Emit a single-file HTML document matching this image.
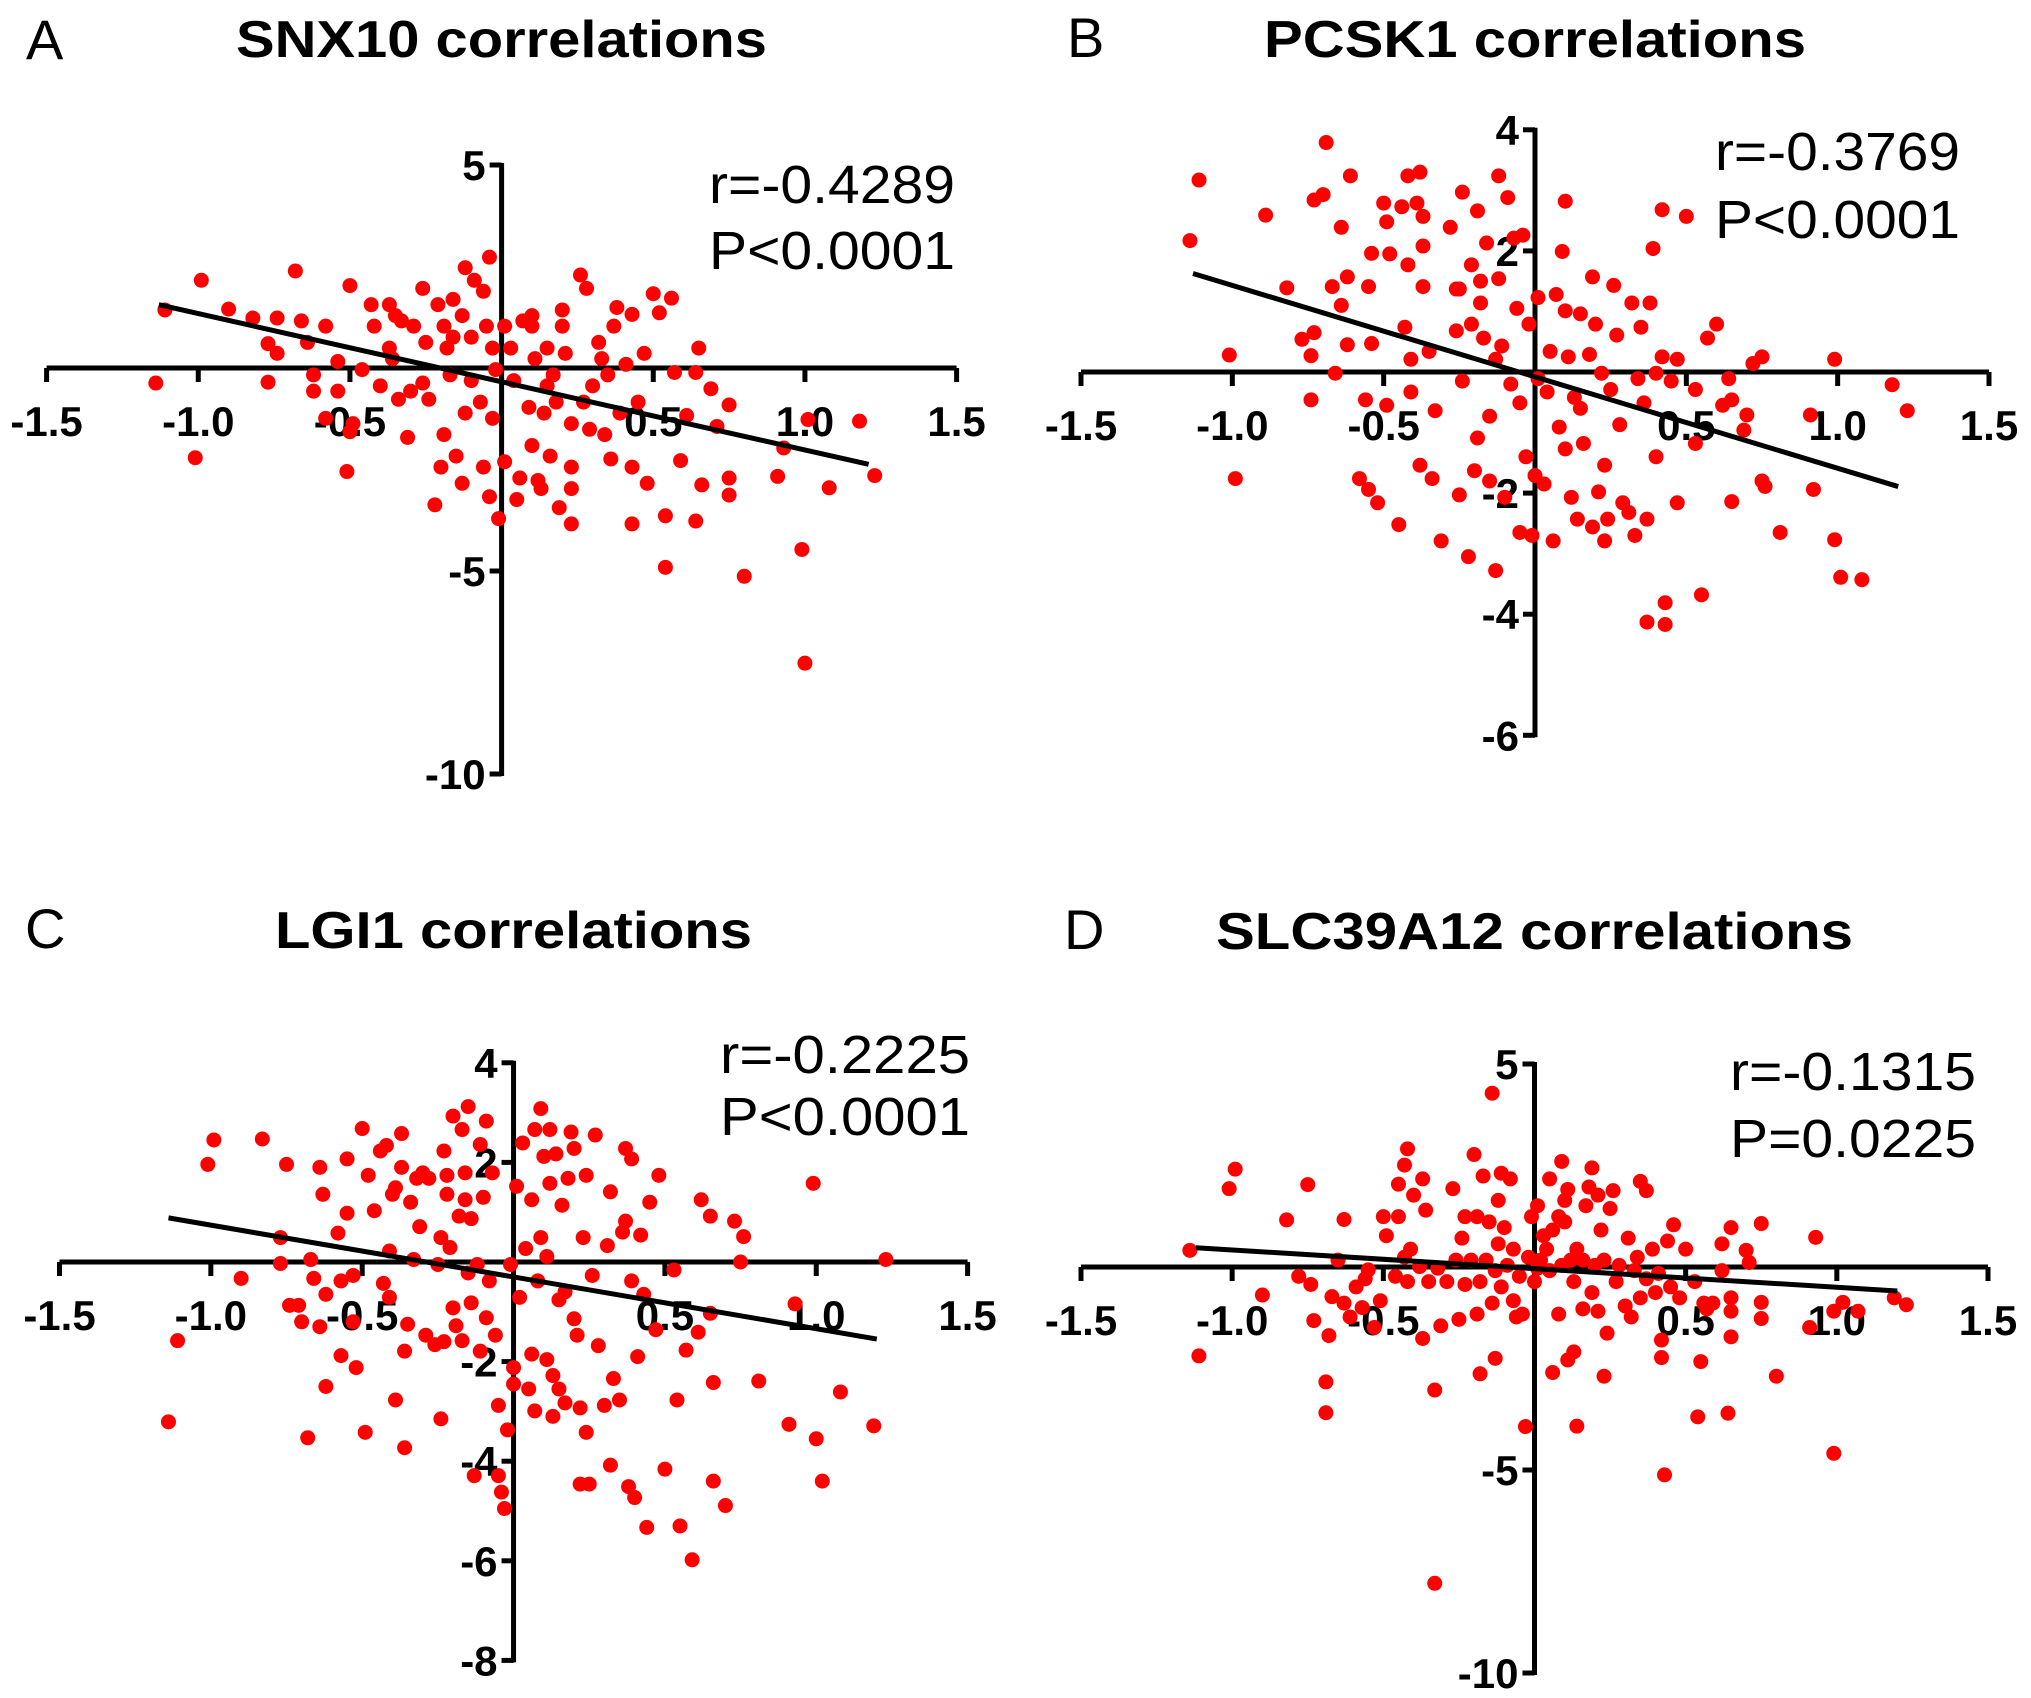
<!DOCTYPE html>
<html><head><meta charset="utf-8"><style>
html,body{margin:0;padding:0;background:#fff;}
svg{display:block;font-family:"Liberation Sans",Arial,sans-serif;}
</style></head><body>
<svg id="fig" width="2031" height="1698" viewBox="0 0 2031 1698" xmlns="http://www.w3.org/2000/svg"></svg>
<script>
// ---- Panel A data (SNX10) ----
const aX=[-1.14,-1.11,-0.99,-1.01,-0.90,-0.82,-0.77,-0.77,-0.74,-0.74,-0.68,-0.66,-0.64,-0.62,-0.62,-0.58,-0.58,-0.54,-0.54,-0.51,-0.50,-0.50,-0.49,-0.46,-0.43,-0.42,-0.40,-0.37,-0.36,-0.37,-0.35,-0.34,-0.31,-0.30,-0.29,-0.26,-0.25,-0.24,-0.22,-0.21,-0.20,-0.19,-0.18,-0.19,-0.17,-0.16,-0.15,-0.13,-0.13,-0.12,-0.12,-0.10,-0.09,-0.07,-0.06,-0.06,-0.05,-0.04,-0.04,-0.03,-0.02,-0.01,0.01,0.01,0.03,0.04,0.05,0.06,0.07,0.09,0.10,0.10,0.11,0.12,0.13,0.14,0.15,0.16,0.17,0.18,0.19,0.20,0.20,0.21,0.23,0.23,0.23,0.26,0.27,0.28,0.29,0.30,0.32,0.33,0.34,0.35,0.36,0.37,0.38,0.39,0.41,0.43,0.43,0.43,0.45,0.47,0.48,0.50,0.52,0.54,0.54,0.56,0.57,0.59,0.61,0.64,0.64,0.65,0.66,0.69,0.71,0.75,0.75,0.75,0.80,0.91,0.93,0.99,1.00,1.01,1.08,1.18,1.23,-0.33,-0.16,-0.03,0.23,0.15,-0.26,-0.10,0.10];
const aY=[-0.37,1.43,2.16,-2.21,1.45,1.23,0.6,-0.35,0.36,1.23,2.39,1.16,0.63,-0.17,-0.57,1.03,-1.24,0.16,-0.57,-2.55,2.03,-1.57,-1.37,-0.04,1.56,1.03,-0.44,0.49,0.23,1.56,1.29,-0.77,-1.71,-0.57,1.03,1.96,0.63,-0.77,-3.37,1.56,-2.44,1.03,0.49,-1.64,-0.17,1.69,-2.17,-2.84,1.29,2.47,-1.11,0.76,2.16,-0.84,-2.44,1.89,1.03,-3.17,2.73,-1.24,-0.04,-3.71,1.03,-2.31,0.49,-0.31,-3.24,-2.71,1.16,-0.97,1.29,-1.91,0.23,-2.77,-2.97,-1.11,0.49,-2.17,-0.17,-0.84,-3.44,1.43,1.03,0.36,-2.44,-3.84,-2.97,2.29,-0.84,1.96,-1.51,-0.44,0.63,0.23,-1.64,-0.17,-2.24,1.03,1.49,-1.11,0.09,-3.84,-2.44,1.32,-0.84,0.36,-2.84,1.83,1.36,-3.64,-4.91,1.72,-0.11,-2.28,-1.17,-0.11,-3.77,0.49,-2.88,-0.51,-1.44,-0.91,-2.71,-3.13,-5.13,-2.67,-1.97,-4.47,-7.27,-1.27,-2.95,-1.31,-2.65,1.16,0.76,0.49,-1.37,-0.44,-0.37,-0.31,1.03];
const aFit=[-1.68,-0.34,-1.13,1.21]; // slope, intercept, xFrom, xTo
// ---- Panel B data (PCSK1) ----
const bX=[-1.14,-1.11,-1.01,-0.99,-0.89,-0.82,-0.77,-0.74,-0.74,-0.73,-0.73,-0.69,-0.70,-0.67,-0.66,-0.64,-0.64,-0.62,-0.62,-0.61,-0.58,-0.56,-0.55,-0.55,-0.54,-0.54,-0.52,-0.50,-0.49,-0.49,-0.48,-0.45,-0.44,-0.43,-0.42,-0.42,-0.41,-0.41,-0.39,-0.38,-0.38,-0.37,-0.37,-0.37,-0.35,-0.34,-0.33,-0.31,-0.28,-0.26,-0.26,-0.25,-0.25,-0.24,-0.24,-0.22,-0.21,-0.21,-0.20,-0.19,-0.19,-0.18,-0.18,-0.17,-0.16,-0.15,-0.15,-0.13,-0.13,-0.12,-0.12,-0.11,-0.10,-0.09,-0.08,-0.07,-0.06,-0.05,-0.05,-0.04,-0.03,-0.02,-0.01,0.00,0.01,0.01,0.03,0.04,0.05,0.06,0.07,0.08,0.09,0.10,0.10,0.10,0.11,0.12,0.13,0.14,0.15,0.15,0.16,0.18,0.19,0.19,0.20,0.21,0.22,0.23,0.23,0.24,0.25,0.26,0.27,0.28,0.29,0.31,0.32,0.33,0.34,0.35,0.36,0.37,0.37,0.38,0.39,0.40,0.40,0.42,0.42,0.43,0.43,0.45,0.47,0.47,0.50,0.53,0.53,0.55,0.57,0.60,0.62,0.64,0.65,0.65,0.69,0.70,0.72,0.75,0.75,0.76,0.81,0.91,0.92,0.99,0.99,1.01,1.08,1.18,1.23];
const bY=[2.17,3.17,0.28,-1.76,2.59,1.39,0.54,0.27,-0.46,2.84,0.65,3.79,2.93,1.41,-0.02,2.39,1.10,1.57,0.45,3.24,-1.76,-0.46,-1.94,1.41,0.47,1.96,-2.16,2.79,-0.55,2.48,1.95,-2.52,2.73,0.74,1.77,3.24,0.21,-0.33,2.79,-1.54,3.30,1.41,2.57,2.08,0.34,-1.76,-0.64,-2.79,2.39,1.37,0.68,1.37,-2.03,-0.15,2.97,-3.05,0.79,1.77,-1.63,2.66,-1.09,1.50,1.14,0.56,2.13,-0.73,-1.80,-3.28,0.21,3.24,1.54,0.43,-2.07,2.88,-0.20,2.21,1.05,-2.65,-0.51,2.26,-1.40,0.79,-2.70,-1.71,-0.11,1.23,-1.85,-0.33,0.34,-2.79,1.28,-0.91,1.99,-1.27,2.82,1.01,0.25,-2.07,-0.42,-2.43,-0.60,0.96,-1.18,0.29,1.57,-2.56,0.79,-1.98,-0.02,-2.79,-1.54,-2.43,-0.29,1.43,0.61,-0.87,-2.16,-2.32,1.14,-2.70,-0.11,0.74,-0.51,-2.43,-4.13,1.14,2.04,-1.40,-0.02,0.25,2.68,-4.17,-3.81,-0.15,-2.16,0.21,2.57,-0.29,-1.18,-3.68,0.56,0.79,-0.55,-0.11,-0.46,-2.14,-0.96,-0.71,0.14,0.25,-1.80,-1.89,-2.65,-0.71,-1.94,0.21,-2.77,-3.39,-3.43,-0.21,-0.64];
const bFit=[-1.51,-0.08,-1.13,1.20];
// ---- Panel C data (LGI1) ----
const cX=[-1.14,-1.11,-1.01,-0.99,-0.90,-0.83,-0.77,-0.75,-0.77,-0.74,-0.71,-0.70,-0.68,-0.67,-0.66,-0.64,-0.64,-0.63,-0.62,-0.62,-0.58,-0.57,-0.57,-0.55,-0.55,-0.53,-0.53,-0.52,-0.50,-0.49,-0.48,-0.46,-0.44,-0.43,-0.42,-0.41,-0.41,-0.40,-0.39,-0.39,-0.37,-0.37,-0.36,-0.36,-0.35,-0.34,-0.33,-0.32,-0.31,-0.30,-0.29,-0.28,-0.26,-0.25,-0.24,-0.24,-0.23,-0.23,-0.22,-0.22,-0.21,-0.20,-0.20,-0.19,-0.18,-0.17,-0.17,-0.16,-0.16,-0.15,-0.15,-0.14,-0.14,-0.13,-0.12,-0.11,-0.11,-0.10,-0.09,-0.09,-0.08,-0.07,-0.06,-0.05,-0.05,-0.04,-0.03,-0.02,-0.01,0.00,0.00,0.01,0.02,0.03,0.04,0.05,0.06,0.06,0.07,0.07,0.08,0.09,0.09,0.10,0.11,0.11,0.12,0.12,0.13,0.13,0.14,0.15,0.15,0.16,0.17,0.17,0.18,0.19,0.20,0.20,0.21,0.22,0.22,0.23,0.24,0.24,0.25,0.26,0.27,0.28,0.30,0.31,0.32,0.32,0.33,0.35,0.36,0.37,0.37,0.38,0.39,0.39,0.40,0.41,0.42,0.43,0.44,0.45,0.47,0.48,0.50,0.53,0.54,0.55,0.57,0.59,0.61,0.62,0.65,0.65,0.66,0.66,0.70,0.73,0.75,0.76,0.81,0.91,0.93,0.99,1.00,1.02,1.08,1.19,1.23];
const cY=[-3.21,-1.58,1.96,2.45,-0.33,2.47,0.49,1.96,-0.03,-0.87,-0.87,-1.20,-3.53,0.05,-0.33,1.90,-1.30,1.36,-2.50,-0.65,0.58,-0.38,-1.88,0.98,2.07,-0.27,-1.20,-2.12,2.68,-3.42,1.74,1.03,2.23,-0.43,2.34,0.22,-0.71,1.36,-2.77,1.49,2.58,1.90,-1.79,-3.73,-1.25,1.20,0.05,1.68,0.71,1.79,-1.47,1.68,-1.66,-0.05,-3.15,0.49,2.23,-1.60,1.36,1.74,0.29,-0.92,2.93,-1.28,0.92,-1.58,2.66,1.79,1.25,-0.22,3.12,-0.82,0.87,-4.29,-0.05,-1.79,2.36,1.30,-1.12,2.83,-0.38,1.79,-1.47,-2.88,-4.29,-4.62,-4.95,-3.37,-0.05,-2.12,-2.45,1.52,-0.71,2.39,0.27,-2.55,1.25,-1.85,-2.99,2.66,-0.38,3.08,0.49,2.12,-1.96,0.11,2.66,1.58,-2.28,-3.10,2.17,-0.76,-2.55,1.14,-2.83,-0.60,1.68,2.61,-1.14,2.28,-1.47,-2.93,-4.46,0.49,1.74,-3.42,-4.46,-0.27,2.55,-1.68,-2.88,0.33,-4.08,1.41,-2.34,-2.77,0.60,0.82,2.28,-4.51,2.07,-0.38,-4.73,-1.90,0.54,-0.65,-5.33,1.20,-1.36,1.74,-4.16,-0.16,-2.77,-5.30,-1.77,-5.98,-1.41,1.25,0.92,-1.03,-4.40,-2.42,-4.89,0.82,0.00,0.51,-2.39,-3.26,-0.84,1.58,-3.55,-4.40,-2.61,-3.29,0.05,-1.96];
const cFit=[-1.04,-0.30,-1.14,1.20];
// ---- Panel D data (SLC39A12) ----
const dX=[-1.14,-1.11,-1.01,-0.99,-0.90,-0.82,-0.78,-0.75,-0.74,-0.73,-0.69,-0.69,-0.68,-0.67,-0.65,-0.63,-0.63,-0.61,-0.59,-0.57,-0.56,-0.55,-0.53,-0.51,-0.50,-0.49,-0.46,-0.45,-0.45,-0.43,-0.43,-0.42,-0.42,-0.41,-0.40,-0.38,-0.37,-0.37,-0.36,-0.35,-0.33,-0.33,-0.32,-0.31,-0.29,-0.27,-0.26,-0.25,-0.24,-0.23,-0.23,-0.21,-0.20,-0.19,-0.19,-0.18,-0.18,-0.17,-0.16,-0.15,-0.14,-0.14,-0.13,-0.13,-0.12,-0.12,-0.11,-0.11,-0.10,-0.09,-0.08,-0.07,-0.07,-0.06,-0.05,-0.04,-0.03,-0.02,-0.01,0.00,0.01,0.01,0.02,0.03,0.04,0.05,0.05,0.06,0.06,0.08,0.08,0.09,0.09,0.10,0.10,0.11,0.11,0.12,0.13,0.13,0.14,0.14,0.16,0.16,0.17,0.18,0.19,0.19,0.20,0.21,0.21,0.22,0.23,0.23,0.24,0.25,0.26,0.27,0.28,0.30,0.31,0.32,0.33,0.34,0.35,0.35,0.37,0.37,0.39,0.40,0.41,0.42,0.42,0.43,0.44,0.45,0.46,0.48,0.50,0.53,0.54,0.55,0.56,0.57,0.59,0.62,0.62,0.64,0.65,0.65,0.65,0.65,0.70,0.71,0.75,0.75,0.75,0.80,0.91,0.93,0.99,0.99,1.02,1.07,1.19,1.23];
const dY=[0.41,-2.19,1.93,2.41,-0.69,1.16,-0.23,2.03,-0.43,-1.32,-2.83,-3.59,-1.69,-0.73,0.17,1.17,-0.89,-1.23,-0.49,-1.00,-0.29,-0.07,-1.49,-0.83,1.24,0.77,-0.23,2.04,1.24,0.24,2.51,2.91,-0.36,0.44,1.77,0.01,-1.76,2.17,1.40,-0.36,-3.03,-7.79,-0.03,-1.45,-0.36,1.93,0.17,-1.29,0.71,-0.43,1.24,0.17,2.77,-1.16,1.24,-2.63,-0.36,2.24,0.17,1.11,4.28,-0.89,-0.09,-2.25,1.64,0.57,2.31,-0.49,0.97,0.04,2.17,-0.83,0.44,-1.23,-0.23,-1.16,-3.93,0.24,1.24,-0.36,1.51,-0.03,0.17,0.77,0.44,-0.09,2.17,-2.60,0.91,1.24,-1.16,2.60,0.04,1.11,1.64,-2.29,1.91,0.17,-2.09,-0.36,-3.92,0.44,-1.03,0.17,1.51,1.97,-0.63,2.44,0.04,1.77,-1.09,0.91,0.17,-2.69,-1.63,1.44,1.88,-0.36,0.04,-0.96,0.71,-1.23,-0.09,0.24,2.11,-0.76,1.88,-0.29,0.44,-0.63,-0.16,-1.80,-2.23,-5.12,0.64,-0.49,1.04,-0.76,0.44,-0.36,-3.69,-2.33,-0.89,-1.03,-0.89,0.57,-0.09,-3.60,0.97,-0.76,-1.72,-1.09,0.41,0.11,1.07,-0.87,-1.27,-2.69,-1.49,0.73,-1.09,-4.59,-0.87,-1.09,-0.76,-0.93];
const dFit=[-0.46,-0.04,-1.12,1.20];
// tick labels
const xTickVals=[-1.5,-1.0,-0.5,0.5,1.0,1.5];
const xTickLabels=["-1.5","-1.0","-0.5","0.5","1.0","1.5"];
const aYTicks=[5,-5,-10], bYTicks=[4,2,-2,-4,-6], cYTicks=[4,2,-2,-4,-6,-8], dYTicks=[5,-5,-10];

const NS="http://www.w3.org/2000/svg";
const svg=document.getElementById('fig');
function mk(tag,attrs,parent){const e=document.createElementNS(NS,tag);for(const k in attrs)e.setAttribute(k,attrs[k]);parent.appendChild(e);return e;}

const panels=[
 {id:'a',letter:'A',title:'SNX10 correlations',r:'r=-0.4289',p:'P<0.0001',xs:aX,ys:aY,fit:aFit,yt:aYTicks,
  xl:46.6,xr:956.6,y0:368,ypu:40.6,lx:26,lb:59,tx:236,tw:531,tb:57,sx:709,rb:203,pb:269,sw:246},
 {id:'b',letter:'B',title:'PCSK1 correlations',r:'r=-0.3769',p:'P<0.0001',xs:bX,ys:bY,fit:bFit,yt:bYTicks,
  xl:1081,xr:1989,y0:372,ypu:60.55,lx:1067,lb:57,tx:1264,tw:542,tb:57,sx:1715,rb:170,pb:238,sw:245},
 {id:'c',letter:'C',title:'LGI1 correlations',r:'r=-0.2225',p:'P<0.0001',xs:cX,ys:cY,fit:cFit,yt:cYTicks,
  xl:59.5,xr:967.6,y0:1262,ypu:49.8,lx:25,lb:948,tx:275,tw:477,tb:948,sx:720,rb:1073,pb:1135,sw:250},
 {id:'d',letter:'D',title:'SLC39A12 correlations',r:'r=-0.1315',p:'P=0.0225',xs:dX,ys:dY,fit:dFit,yt:dYTicks,
  xl:1081,xr:1988,y0:1267,ypu:40.6,lx:1064,lb:949,tx:1216,tw:637,tb:949,sx:1730,rb:1090,pb:1157,sw:246}
];

panels.forEach(P=>{
  const g=mk('g',{},svg);
  
  
  const sx=v=>P.xl+(v+1.5)*(P.xr-P.xl)/3;
  const sy=v=>P.y0-v*P.ypu;
  const lt=mk('text',{x:P.lx,y:P.lb,'font-size':56,fill:'#000'},g);lt.textContent=P.letter;
  
  
  const tt=mk('text',{x:P.tx,y:P.tb,'font-size':52,'font-weight':'bold',fill:'#000',textLength:P.tw,lengthAdjust:'spacingAndGlyphs'},g);tt.textContent=P.title;
  
  
  // x axis
  const xa=mk('line',{x1:sx(-1.5),x2:sx(1.5),y1:sy(0),y2:sy(0),stroke:'#000','stroke-width':5},g);
  
  
  xTickVals.forEach((v,i)=>{
    const t=mk('line',{x1:sx(v),x2:sx(v),y1:sy(0),y2:sy(0)+14,stroke:'#000','stroke-width':5},g);
    
    
    const l=mk('text',{x:sx(v),y:sy(0)+68,'font-size':42,'font-weight':'bold','text-anchor':'middle',fill:'#000'},g);
    l.textContent=xTickLabels[i];
    
    
  });
  // y axis
  const top=Math.max(...P.yt), bot=Math.min(...P.yt);
  const ya=mk('line',{x1:sx(0),x2:sx(0),y1:sy(top)-2,y2:sy(bot)+2,stroke:'#000','stroke-width':5},g);
  
  
  P.yt.forEach(v=>{
    const t=mk('line',{x1:sx(0)-12,x2:sx(0),y1:sy(v),y2:sy(v),stroke:'#000','stroke-width':5},g);
    
    
    const l=mk('text',{x:sx(0)-16,y:sy(v)+15,'font-size':42,'font-weight':'bold','text-anchor':'end',fill:'#000'},g);
    l.textContent=String(v);
    
    
  });
  // points
  P.xs.forEach((x,i)=>{
    const c=mk('circle',{cx:sx(x),cy:sy(P.ys[i]),r:7.5,fill:'#ff0000'},g);
    
    
  });
  // regression line
  const [m,b,x1,x2]=P.fit;
  const rl=mk('line',{x1:sx(x1),y1:sy(m*x1+b),x2:sx(x2),y2:sy(m*x2+b),stroke:'#000','stroke-width':5},g);
  
  
  // stats
  const rt=mk('text',{x:P.sx,y:P.rb,'font-size':54,fill:'#000',textLength:P.sw,lengthAdjust:'spacingAndGlyphs'},g);rt.textContent=P.r;
  
  
  const pt=mk('text',{x:P.sx,y:P.pb,'font-size':54,fill:'#000',textLength:P.sw,lengthAdjust:'spacingAndGlyphs'},g);pt.textContent=P.p;
  
  
});
</script>
</body></html>
